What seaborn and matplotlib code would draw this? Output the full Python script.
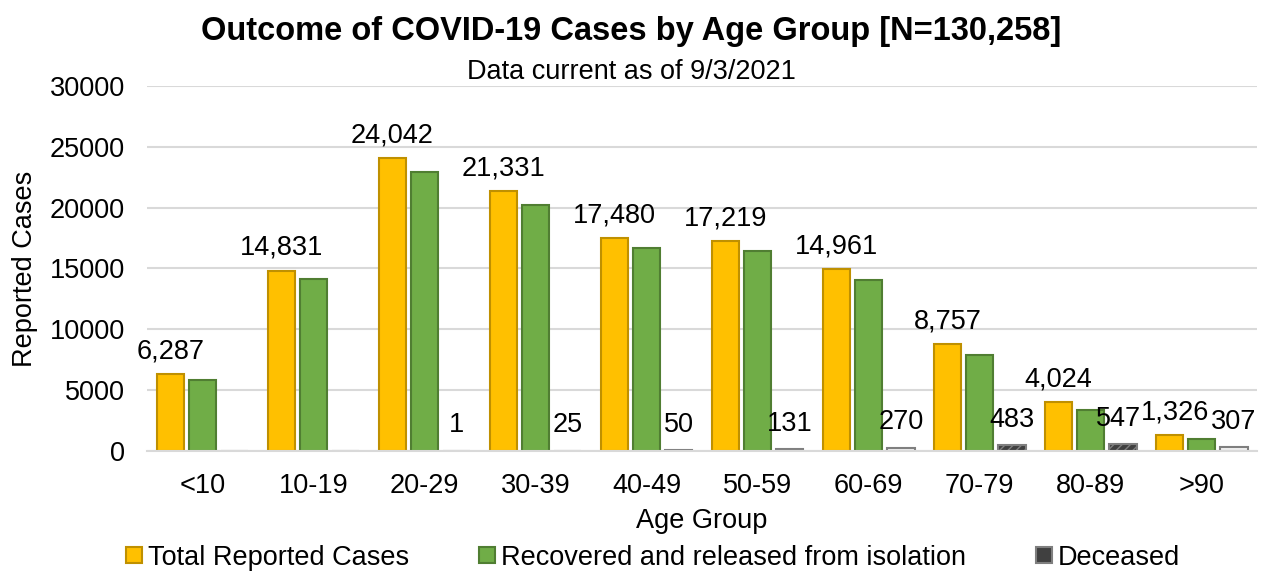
import pandas as pd
import numpy as np
import matplotlib.pyplot as plt
import seaborn as sns
from matplotlib.lines import Line2D

# =============================================================================
# DATOS
# =============================================================================
grupos_edad = ['<10', '10-19', '20-29', '30-39', '40-49',
               '50-59', '60-69', '70-79', '80-89', '>90']
total_casos = [6287, 14831, 24042, 21331, 17480, 17219, 14961, 8757, 4024, 1326]
recuperados = [5850, 14150, 22950, 20250, 16650, 16400, 14080, 7900, 3400, 1000]
fallecidos = [0, 0, 1, 25, 50, 131, 270, 483, 547, 307]

series = ['Total Reported Cases',
          'Recovered and released from isolation',
          'Deceased']

df = pd.DataFrame({
    'grupo': grupos_edad * 3,
    'serie': np.repeat(series, len(grupos_edad)),
    'valor': total_casos + recuperados + fallecidos
})

# =============================================================================
# FIGURA
# =============================================================================
sns.set_style('white')
plt.rcParams['font.family'] = ['Liberation Sans', 'DejaVu Sans']
plt.rcParams['text.color'] = 'black'
plt.rcParams['axes.labelcolor'] = 'black'
plt.rcParams['xtick.color'] = 'black'
plt.rcParams['ytick.color'] = 'black'

TAM = 19.5

colores = ['#FFC000', '#70AD47', '#404040']
bordes = ['#BF9000', '#507E32', '#7F7F7F']

fig = plt.figure(figsize=(12.63, 5.73), dpi=100)
ax = fig.add_axes([0.1164, 0.213, 0.879, 0.637])

sns.barplot(
    data=df, x='grupo', y='valor', hue='serie',
    palette=colores, saturation=1, width=0.87, gap=0.15,
    legend=False, ax=ax, linewidth=1.5
)

# bordes y patron de los fallecidos
n = len(grupos_edad)
for i, bar in enumerate(ax.patches[:3 * n]):
    s = i // n
    bar.set_edgecolor(bordes[s])
    if s == 2:
        bar.set_hatch('////')
        bar.set_linewidth(1.5)
        if fallecidos[i % n] in (270, 307):
            bar.set_facecolor('#F2F2F2')
            bar.set_edgecolor('#7F7F7F')
            bar.set_hatch(None)

# etiquetas de datos (las dos ultimas se apartan un poco para no pisarse)
for i in range(n):
    bt = ax.patches[i]
    dx = 4 if i == n - 1 else 0
    ax.annotate(f'{total_casos[i]:,}',
                (bt.get_x() + bt.get_width() / 2, bt.get_height()),
                xytext=(dx, 7), textcoords='offset points',
                ha='center', va='bottom', fontsize=TAM)
    if fallecidos[i] > 0:
        bd = ax.patches[2 * n + i]
        dx = -3 if i == n - 2 else 0
        ax.annotate(f'{fallecidos[i]:,}',
                    (bd.get_x() + bd.get_width() / 2, bd.get_height()),
                    xytext=(dx, 9), textcoords='offset points',
                    ha='center', va='bottom', fontsize=TAM)

ax.set_ylim(0, 30000)
ax.set_yticks(range(0, 30001, 5000))
ax.set_xlim(-0.5, n - 0.5)
ax.tick_params(axis='both', labelsize=TAM, length=0)
ax.tick_params(axis='x', pad=16)
ax.tick_params(axis='y', pad=16)
ax.grid(axis='y', color='#D9D9D9', linewidth=1.5)
ax.set_axisbelow(True)

for lado in ['left', 'right', 'top']:
    ax.spines[lado].set_visible(False)
ax.spines['bottom'].set_color('#D9D9D9')
ax.spines['bottom'].set_linewidth(1.5)

ax.set_xlabel('Age Group', fontsize=TAM, labelpad=6)
ax.set_ylabel('Reported Cases', fontsize=TAM, labelpad=8)

fig.text(0.5, 0.945, 'Outcome of COVID-19 Cases by Age Group [N=130,258]',
         ha='center', va='center', fontsize=23.5, weight='bold')
fig.text(0.5, 0.875, 'Data current as of 9/3/2021',
         ha='center', va='center', fontsize=TAM)

# leyenda
manijas = [
    Line2D([], [], marker='s', linestyle='none', markersize=12,
           markerfacecolor=colores[k], markeredgecolor=bordes[k],
           markeredgewidth=1.5)
    for k in range(3)
]
fig.legend(manijas, series, loc='center', bbox_to_anchor=(0.515, 0.027),
           ncol=3, frameon=False, fontsize=TAM, handletextpad=0.0,
           columnspacing=2.4, handlelength=1.0)

plt.savefig('out.png', dpi=100)
